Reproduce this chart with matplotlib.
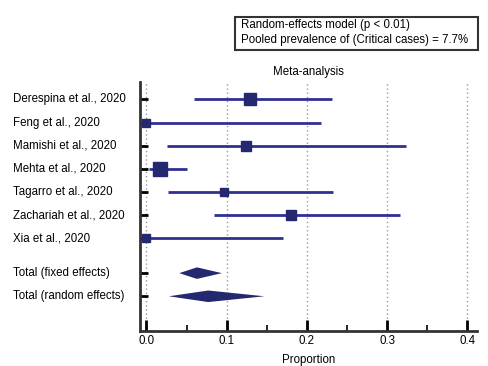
import numpy as np
import matplotlib
matplotlib.use("Agg")
import matplotlib.pyplot as plt
from matplotlib.patches import Rectangle
from matplotlib.transforms import blended_transform_factory

plt.rcParams['font.family'] = ['Liberation Sans', 'DejaVu Sans']

# study data: proportion with 95% CI and weight (%)
studies = ["Derespina et al., 2020", "Feng et al., 2020", "Mamishi et al., 2020",
           "Mehta et al., 2020", "Tagarro et al., 2020", "Zachariah et al., 2020",
           "Xia et al., 2020"]
est = [0.129, 0.0, 0.124, 0.017, 0.097, 0.180, 0.0]
lo = [0.059, 0.0, 0.026, 0.003, 0.027, 0.084, 0.0]
hi = [0.231, 0.218, 0.324, 0.051, 0.233, 0.316, 0.170]
weights = [21.1, 7.2, 11.9, 28.7, 9.4, 14.6, 7.2]

totals = ["Total (fixed effects)", "Total (random effects)"]
tot_est = [0.063, 0.077]
tot_lo = [0.041, 0.028]
tot_hi = [0.094, 0.147]

navy = '#2e3192'
dark = '#24286e'
fs = 8.3

fig = plt.figure(figsize=(4.89, 3.66), dpi=100)
ax = fig.add_axes([0.2863, 0.0956, 0.689, 0.680])

rows = np.arange(1, len(studies) + 1)
tot_rows = [8.5, 9.5]

for y, e, l, h, w in zip(rows, est, lo, hi, weights):
    ax.plot([l, h], [y, y], color=navy, lw=2, solid_capstyle='butt', zorder=3)
    side = 2.61 * np.sqrt(w) * 0.72
    ax.plot(e, y, marker='s', ms=side, color=dark, mec=dark, zorder=4)

for y, e, l, h in zip(tot_rows, tot_est, tot_lo, tot_hi):
    d = 0.25
    ax.fill([l, e, h, e], [y, y - d, y, y + d], color=dark, lw=0, zorder=4)

ax.set_xlim(-0.008, 0.412)
ax.set_ylim(11, 0.25)

ax.set_xticks([0.0, 0.1, 0.2, 0.3, 0.4])
ax.set_xticklabels(['0.0', '0.1', '0.2', '0.3', '0.4'])
ax.set_xticks([0.05, 0.15, 0.25, 0.35], minor=True)
ax.set_yticks(list(rows) + tot_rows)
ax.set_yticklabels([])
ax.tick_params(axis='x', direction='in', length=8, width=2, labelsize=fs, pad=3)
ax.tick_params(axis='x', which='minor', direction='in', length=4, width=1.2)
ax.tick_params(axis='y', direction='in', length=6, width=2)
for s in ['top', 'right']:
    ax.spines[s].set_visible(False)
for s in ['left', 'bottom']:
    ax.spines[s].set_linewidth(2)
    ax.spines[s].set_color('#333333')
ax.grid(axis='x', color='#999999', ls=(0, (1, 2)), lw=1)
ax.set_axisbelow(True)

trans = blended_transform_factory(fig.transFigure, ax.transData)
for y, name in zip(list(rows) + tot_rows, studies + totals):
    ax.text(13 / 489, y, name, transform=trans, ha='left', va='center', fontsize=fs)

ax.set_title('Meta-analysis', fontsize=fs, pad=5)
ax.set_xlabel('Proportion', fontsize=fs, labelpad=5)

# legend box
fig.patches.append(Rectangle((235 / 489, 1 - 50 / 366), 243 / 489, 33 / 366,
                             transform=fig.transFigure, fill=False, ec='#333333', lw=1.5))
fig.text(241 / 489, 1 - 25 / 366, 'Random-effects model (p < 0.01)', fontsize=fs, va='center')
fig.text(241 / 489, 1 - 39.5 / 366, 'Pooled prevalence of (Critical cases) = 7.7%', fontsize=fs, va='center')

fig.savefig('out.png', dpi=100)
